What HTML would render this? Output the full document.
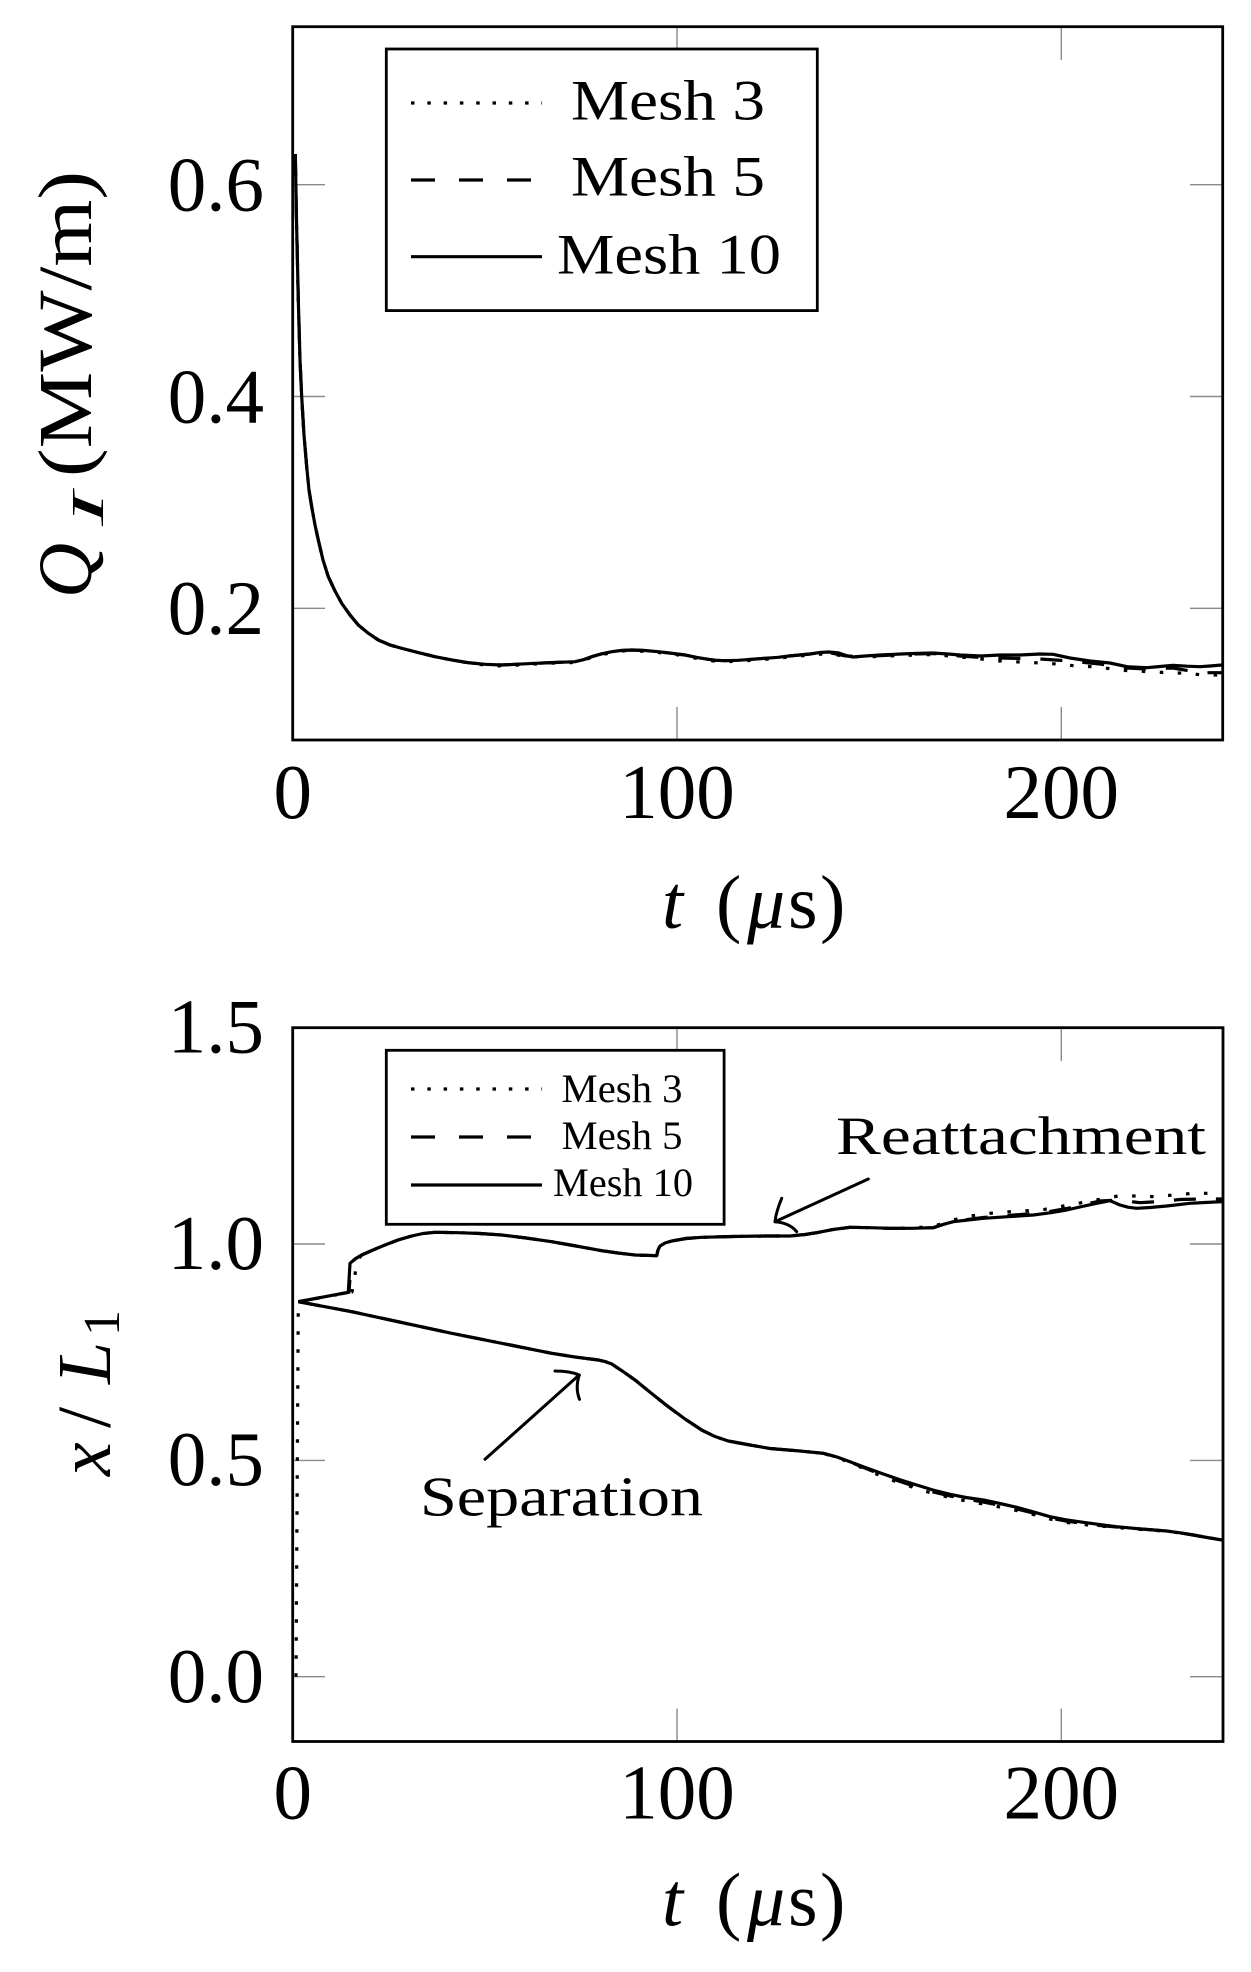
<!DOCTYPE html>
<html>
<head>
<meta charset="utf-8">
<style>
html,body{margin:0;padding:0;background:#fff;}
svg{display:block;}
text{font-family:"Liberation Serif","DejaVu Serif",serif;fill:#000;}
</style>
</head>
<body>
<svg width="1251" height="1972" viewBox="0 0 1251 1972" xmlns="http://www.w3.org/2000/svg">
<rect x="0" y="0" width="1251" height="1972" fill="#fff"/>

<!-- ================= TOP PLOT ================= -->
<!-- gray ticks -->
<g stroke="#8a8a8a" stroke-width="1.4" fill="none">
  <line x1="292.7" y1="184.7" x2="325" y2="184.7"/>
  <line x1="292.7" y1="396.5" x2="325" y2="396.5"/>
  <line x1="292.7" y1="608.3" x2="325" y2="608.3"/>
  <line x1="1222.7" y1="184.7" x2="1190" y2="184.7"/>
  <line x1="1222.7" y1="396.5" x2="1190" y2="396.5"/>
  <line x1="1222.7" y1="608.3" x2="1190" y2="608.3"/>
  <line x1="677" y1="740" x2="677" y2="707"/>
  <line x1="1061.3" y1="740" x2="1061.3" y2="707"/>
  <line x1="677" y1="26.7" x2="677" y2="60"/>
  <line x1="1061.3" y1="26.7" x2="1061.3" y2="60"/>
</g>

<!-- curves top -->
<g fill="none" stroke="#000" stroke-linejoin="round">
  <!-- Mesh 3 dotted -->
  <path stroke-width="3.2" stroke-dasharray="3.5 14.5" d="M295.3,154 L296.5,220 L298.3,300 L300,360 L301.7,396.7 L304,435 L306.7,466.7 L309,490 L311.7,506.7 L315,525 L318.3,540 L323,560 L328.3,576.7 L335,591 L341.7,603.3 L350,615 L358.3,625 L368,633 L378.3,640 L390,645 L401.7,648.3 L418,652.5 L435,656.7 L452,660 L468.3,663 L485,665 L501.7,666 L518,665 L535,664 L555,663 L575,662.5 L584,660 L591.7,657.5 L601,655 L611.7,652.5 L621,651 L631.7,650.8 L645,651.3 L658.3,652.5 L672,654 L685,656 L697,658.5 L708.3,660.3 L716,661.3 L725,661.7 L738,661.3 L751.7,660.3 L765,659.3 L778.3,658.3 L789,657 L810,655 L829,653.5 L846,656.5 L865,657 L901,655.5 L933,654.5 L960,657 L981,659 L1000,661 L1040,663 L1057,664 L1077,666 L1093,666.7 L1113,669 L1130,671 L1150,671.7 L1167,672.7 L1187,673.3 L1203,675 L1222,675"/>
  <!-- Mesh 5 dashed -->
  <path stroke-width="3.2" stroke-dasharray="22 20" d="M295.3,154 L296.5,220 L298.3,300 L300,360 L301.7,396.7 L304,435 L306.7,466.7 L309,490 L311.7,506.7 L315,525 L318.3,540 L323,560 L328.3,576.7 L335,591 L341.7,603.3 L350,615 L358.3,625 L368,633 L378.3,640 L390,645 L401.7,648.3 L418,652.5 L435,656.7 L452,660 L468.3,662.7 L485,664.3 L501.7,665 L518,664.2 L535,663.3 L555,662.5 L575,661.7 L584,659.5 L591.7,656.7 L601,654 L611.7,651.7 L621,650.5 L631.7,650 L645,650.5 L658.3,651.7 L672,653.3 L685,655 L697,657.5 L708.3,659.3 L716,660.3 L725,660.7 L738,660.3 L751.7,659.3 L765,658.3 L778.3,657.3 L789,656 L810,654 L829,652.5 L846,656 L865,656.5 L901,654.5 L933,653.5 L960,656 L981,657.5 L1000,658 L1040,659 L1070,661 L1100,664 L1127,668 L1147,669 L1173,668 L1190,671 L1205,672.7 L1222,672.7"/>
  <!-- Mesh 10 solid -->
  <path stroke-width="3.2" d="M295.3,154 L296.5,220 L298.3,300 L300,360 L301.7,396.7 L304,435 L306.7,466.7 L309,490 L311.7,506.7 L315,525 L318.3,540 L323,560 L328.3,576.7 L335,591 L341.7,603.3 L350,615 L358.3,625 L368,633 L378.3,640 L390,645 L401.7,648.3 L418,652.5 L435,656.7 L452,660 L468.3,662.7 L485,664.3 L501.7,665 L518,664.2 L535,663.3 L555,662.5 L575,661.7 L584,659.5 L591.7,656.7 L601,654 L611.7,651.7 L621,650.5 L631.7,650 L645,650.5 L658.3,651.7 L672,653.3 L685,655 L697,657.5 L708.3,659.3 L716,660.3 L725,660.7 L738,660.3 L751.7,659.3 L765,658.3 L778.3,657.3 L789,656 L810,654 L820,652.5 L829,652 L838,652.8 L846,655.5 L853,657 L865,656 L880,655 L901,654 L918,653.3 L933,653 L948,654 L960,655 L981,656 L1000,655 L1020,655 L1040,654 L1053,654.3 L1070,658 L1090,661 L1110,663 L1127,666.7 L1147,667.7 L1160,666.5 L1173,665.3 L1187,666.2 L1200,666.7 L1210,666 L1222,665"/>
</g>

<!-- axis frame top -->
<rect x="292.7" y="26.7" width="930" height="713.3" fill="none" stroke="#000" stroke-width="2.8"/>

<!-- legend top -->
<rect x="386.3" y="49" width="431" height="261.6" fill="#fff" stroke="#000" stroke-width="2.8"/>
<g fill="none" stroke="#000" stroke-width="3.2">
  <line x1="411" y1="103" x2="542" y2="103" stroke-dasharray="3.5 12.8"/>
  <line x1="411" y1="180" x2="542" y2="180" stroke-dasharray="24 24"/>
  <line x1="411" y1="256.7" x2="542" y2="256.7"/>
</g>
<text x="668" y="119.5" font-size="57" text-anchor="middle" textLength="194" lengthAdjust="spacingAndGlyphs">Mesh 3</text>
<text x="668" y="195.5" font-size="57" text-anchor="middle" textLength="194" lengthAdjust="spacingAndGlyphs">Mesh 5</text>
<text x="669" y="273.5" font-size="57" text-anchor="middle" textLength="224" lengthAdjust="spacingAndGlyphs">Mesh 10</text>

<!-- tick labels top -->
<g font-size="77">
  <text x="264" y="210.5" text-anchor="end">0.6</text>
  <text x="264" y="422.3" text-anchor="end">0.4</text>
  <text x="264" y="634" text-anchor="end">0.2</text>
  <text x="292.7" y="818" text-anchor="middle">0</text>
  <text x="677" y="818" text-anchor="middle">100</text>
  <text x="1061.3" y="818" text-anchor="middle">200</text>
</g>

<!-- x label top -->
<text y="928" font-size="76">
  <tspan x="662" font-style="italic">t</tspan>
  <tspan x="716">(</tspan>
  <tspan x="747" font-style="italic">μ</tspan>
  <tspan x="788">s</tspan>
  <tspan x="820">)</tspan>
</text>

<!-- y label top -->
<g transform="translate(91,598) rotate(-90)">
  <text x="0" y="0" font-size="76" font-style="italic" textLength="55" lengthAdjust="spacingAndGlyphs">Q</text>
  <text x="72" y="12" font-size="46" font-style="italic" textLength="34" lengthAdjust="spacingAndGlyphs">I</text>
  <text x="121" y="0" font-size="76" textLength="306" lengthAdjust="spacingAndGlyphs">(MW/m)</text>
</g>

<!-- ================= BOTTOM PLOT ================= -->
<g stroke="#8a8a8a" stroke-width="1.4" fill="none">
  <line x1="292.7" y1="1244" x2="325" y2="1244"/>
  <line x1="292.7" y1="1460.4" x2="325" y2="1460.4"/>
  <line x1="292.7" y1="1676.7" x2="325" y2="1676.7"/>
  <line x1="1223" y1="1244" x2="1190" y2="1244"/>
  <line x1="1223" y1="1460.4" x2="1190" y2="1460.4"/>
  <line x1="1223" y1="1676.7" x2="1190" y2="1676.7"/>
  <line x1="677" y1="1741.5" x2="677" y2="1708.5"/>
  <line x1="1061.3" y1="1741.5" x2="1061.3" y2="1708.5"/>
  <line x1="677" y1="1027.7" x2="677" y2="1061"/>
  <line x1="1061.3" y1="1027.7" x2="1061.3" y2="1061"/>
</g>

<g fill="none" stroke="#000" stroke-linejoin="round">
  <!-- Mesh 3 dotted -->
  <path stroke-width="3.2" stroke-dasharray="3.5 14.5" d="M296,1676.7 L298.3,1301.7"/>
  <path stroke-width="3.2" stroke-dasharray="3.5 14.5" d="M298.3,1301.7 L352,1292 L355,1276 L356,1262 L361.7,1255 L373,1250 L385,1245 L398,1240 L411.7,1236 L423,1233.5 L435,1232.3 L458.3,1232.7 L480,1233.5 L501.7,1235 L526,1238 L551.7,1241.7 L576,1246 L601.7,1250.7 L618,1253 L635,1255 L656.7,1255.7 L658,1250 L660,1246 L665,1243 L671.7,1241 L686,1238.5 L701.7,1237.3 L733,1236.5 L765,1236 L790,1236 L805,1234.5 L816.7,1232.7 L833,1229.5 L850,1227.3 L870,1227.7 L890,1228.3 L912,1228 L933.3,1226.5 L953,1220 L970,1216 L990,1213.3 L1010,1211.7 L1026.7,1210.7 L1045,1209.3 L1063.3,1206 L1081.7,1202.7 L1100,1199.3 L1118.3,1196 L1136.7,1196 L1155,1196.7 L1173.3,1195 L1193.3,1193.3 L1222,1193.3"/>
  <path stroke-width="3.2" stroke-dasharray="3.5 14.5" d="M298.3,1301.7 L351.7,1311.7 L401.7,1322.5 L451.7,1333.3 L501.7,1343.3 L551.7,1353.3 L575,1357 L598.3,1360 L605,1361.5 L611.7,1364 L623,1371.5 L635,1380 L651,1393 L668.3,1406.7 L685,1419 L701.7,1430 L715,1436.5 L728.3,1441 L750,1445 L770,1448.5 L800,1451 L823.3,1453.5 L837,1457.5 L850,1462.5 L866,1469.5 L883.3,1477 L900,1483 L916.7,1488.5 L933,1493.5 L950,1497.5 L966,1501 L983.3,1504 L1000,1507 L1016.7,1510.5 L1033,1514.5 L1050,1519 L1066,1522.3 L1083.3,1524.6 L1100,1526 L1116.7,1527.5 L1141,1529.5 L1166.7,1531.3 L1180,1533 L1193.3,1535 L1207,1537.5 L1222,1540"/>
  <!-- Mesh 5 dashed -->
  <path stroke-width="3.2" stroke-dasharray="22 20" d="M298.3,1301.7 L349,1292.3 L351,1263.3 L355,1259 L361.7,1255 L373,1250 L385,1245 L398,1240 L411.7,1236 L423,1233.5 L435,1232.3 L458.3,1232.7 L480,1233.5 L501.7,1235 L526,1238 L551.7,1241.7 L576,1246 L601.7,1250.7 L618,1253 L635,1255 L656.7,1255.7 L658,1250 L660,1246 L665,1243 L671.7,1241 L686,1238.5 L701.7,1237.3 L733,1236.5 L765,1236 L790,1236 L805,1234.5 L816.7,1232.7 L833,1229.5 L850,1227.3 L870,1227.7 L890,1228.3 L912,1228.3 L933.3,1227.7 L943,1224.5 L953.3,1221.7 L968,1219.5 L983.3,1217.5 L1008,1215.5 L1033.3,1213.5 L1050,1211.5 L1066.7,1208.5 L1082,1205 L1100,1201 L1118,1200 L1140,1202.7 L1160,1201.5 L1180,1199.5 L1200,1199 L1222,1199"/>
  <path stroke-width="3.2" stroke-dasharray="22 20" d="M298.3,1301.7 L351.7,1311.7 L401.7,1322.5 L451.7,1333.3 L501.7,1343.3 L551.7,1353.3 L575,1357 L598.3,1360 L605,1361.5 L611.7,1364 L623,1371.5 L635,1380 L651,1393 L668.3,1406.7 L685,1419 L701.7,1430 L715,1436.5 L728.3,1441 L750,1445 L770,1448.5 L800,1451 L823.3,1453.3 L837,1457 L850,1462 L866,1468.5 L883.3,1475.5 L900,1481.5 L916.7,1487 L933,1492 L950,1496 L966,1499 L983.3,1502 L1000,1505.5 L1016.7,1509 L1033,1513 L1050,1518 L1066,1521 L1083.3,1523.3 L1100,1525.5 L1116.7,1527 L1141,1529 L1166.7,1531 L1180,1532.8 L1193.3,1535 L1207,1537.5 L1222,1540"/>
  <!-- Mesh 10 solid -->
  <path stroke-width="3.2" d="M298.3,1301.7 L348.3,1292.3 L350,1263.3 L355,1259 L361.7,1255 L373,1250 L385,1245 L398,1240 L411.7,1236 L423,1233.5 L435,1232.3 L458.3,1232.7 L480,1233.5 L501.7,1235 L526,1238 L551.7,1241.7 L576,1246 L601.7,1250.7 L618,1253 L635,1255 L656.7,1255.7 L658,1250 L660,1246 L665,1243 L671.7,1241 L686,1238.5 L701.7,1237.3 L733,1236.5 L765,1236 L790,1236 L805,1234.5 L816.7,1232.7 L833,1229.5 L850,1227.3 L870,1227.7 L890,1228.3 L912,1228.3 L933.3,1227.7 L943,1224.5 L953.3,1221.7 L968,1220 L983.3,1218.3 L1008,1216.7 L1033.3,1215 L1050,1212.8 L1066.7,1210 L1082,1206.5 L1096.7,1203.3 L1110,1200.7 L1120,1205 L1128,1207.2 L1136.7,1208.3 L1150,1207.5 L1166.7,1206 L1190,1203.3 L1205,1202.5 L1222,1201.7"/>
  <path stroke-width="3.2" d="M298.3,1301.7 L351.7,1311.7 L401.7,1322.5 L451.7,1333.3 L501.7,1343.3 L551.7,1353.3 L575,1357 L598.3,1360 L605,1361.5 L611.7,1364 L623,1371.5 L635,1380 L651,1393 L668.3,1406.7 L685,1419 L701.7,1430 L715,1436.5 L728.3,1441 L750,1445 L770,1448.5 L800,1451 L823.3,1453.3 L837,1457 L850,1461.7 L866,1467.8 L883.3,1474 L900,1479.8 L916.7,1485 L933,1490 L950,1494.3 L966,1497.5 L983.3,1500 L1000,1503.5 L1016.7,1507.3 L1033,1511.8 L1050,1516.7 L1066,1519.8 L1083.3,1522.3 L1100,1524.6 L1116.7,1526.7 L1141,1529 L1166.7,1531 L1180,1532.8 L1193.3,1535 L1207,1537.5 L1222,1540"/>
</g>

<!-- axis frame bottom -->
<rect x="292.7" y="1027.7" width="930.3" height="713.8" fill="none" stroke="#000" stroke-width="2.8"/>

<!-- legend bottom -->
<rect x="386.3" y="1050.3" width="337.8" height="174" fill="#fff" stroke="#000" stroke-width="2.8"/>
<g fill="none" stroke="#000" stroke-width="3.2">
  <line x1="411" y1="1089" x2="542" y2="1089" stroke-dasharray="3.5 12.8"/>
  <line x1="411" y1="1137" x2="542" y2="1137" stroke-dasharray="24 24"/>
  <line x1="411" y1="1185" x2="542" y2="1185"/>
</g>
<text x="622" y="1102" font-size="40" text-anchor="middle" textLength="121" lengthAdjust="spacingAndGlyphs">Mesh 3</text>
<text x="622" y="1149" font-size="40" text-anchor="middle" textLength="121" lengthAdjust="spacingAndGlyphs">Mesh 5</text>
<text x="623" y="1196" font-size="40" text-anchor="middle" textLength="140" lengthAdjust="spacingAndGlyphs">Mesh 10</text>

<!-- annotations -->
<text x="836" y="1154" font-size="54" textLength="370" lengthAdjust="spacingAndGlyphs">Reattachment</text>
<text x="420" y="1515.5" font-size="56" textLength="283" lengthAdjust="spacingAndGlyphs">Separation</text>
<g fill="none" stroke="#000" stroke-width="3" stroke-linecap="round">
  <line x1="868.3" y1="1179" x2="776" y2="1221.2"/>
  <path d="M781.7,1198.3 Q776,1212 775,1221.7"/>
  <path d="M775,1221.7 Q790,1223 796.7,1231.7"/>
  <line x1="485" y1="1459.3" x2="578" y2="1376"/>
  <path d="M555,1371 Q570,1371 579.3,1375"/>
  <path d="M579.3,1375 Q575,1388 579.5,1399.3"/>
</g>

<!-- tick labels bottom -->
<g font-size="77">
  <text x="264" y="1052.5" text-anchor="end">1.5</text>
  <text x="264" y="1268.8" text-anchor="end">1.0</text>
  <text x="264" y="1485.2" text-anchor="end">0.5</text>
  <text x="264" y="1701.8" text-anchor="end">0.0</text>
  <text x="292.7" y="1818.5" text-anchor="middle">0</text>
  <text x="677" y="1818.5" text-anchor="middle">100</text>
  <text x="1061.3" y="1818.5" text-anchor="middle">200</text>
</g>

<!-- x label bottom -->
<text y="1925.5" font-size="76">
  <tspan x="662" font-style="italic">t</tspan>
  <tspan x="716">(</tspan>
  <tspan x="747" font-style="italic">μ</tspan>
  <tspan x="788">s</tspan>
  <tspan x="820">)</tspan>
</text>

<!-- y label bottom -->
<g transform="translate(110,1476) rotate(-90)">
  <text x="0" y="0" font-size="76" font-style="italic">x</text>
  <text x="48" y="0" font-size="76">/</text>
  <text x="92" y="0" font-size="76" font-style="italic">L</text>
  <text x="140" y="9" font-size="52">1</text>
</g>
</svg>
</body>
</html>
